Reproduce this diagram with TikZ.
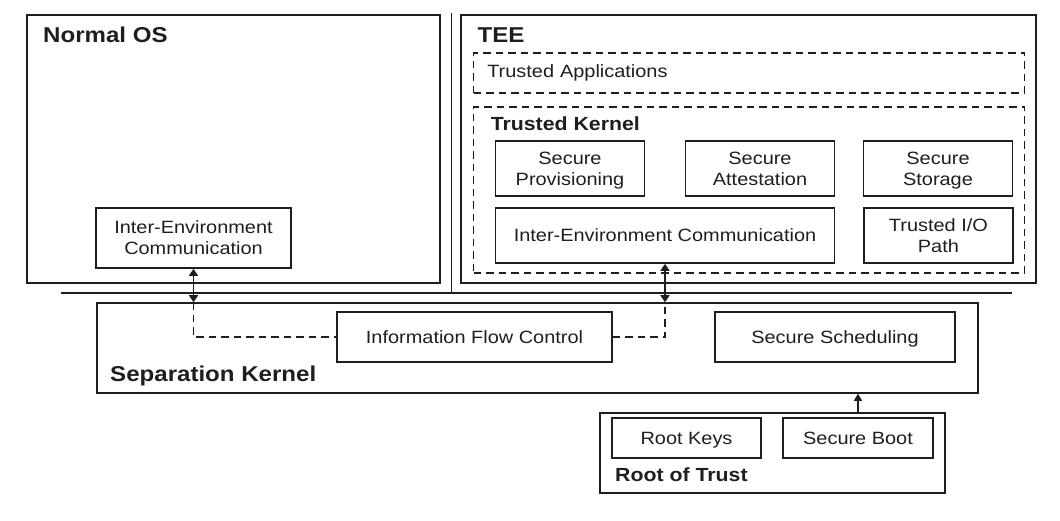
\documentclass[tikz,border=0pt]{standalone}
\usepackage{fontspec}
\setmainfont{Liberation Sans}[FakeStretch=1.12]
\usetikzlibrary{arrows.meta}
\definecolor{ink}{HTML}{1E1E1E}
\tikzset{
  part/.style={draw=ink, line width=1.7pt, inner sep=0pt, align=center, text depth=0pt,
    text=ink, font=\fontsize{17.8}{21}\selectfont},
  zone/.style={draw=ink, line width=1.5pt, inner sep=0pt},
  tzone/.style={draw=ink, line width=1.7pt, dash pattern=on 7.5pt off 5pt, inner sep=0pt},
  title/.style={anchor=base west, inner sep=0pt, text=ink,
    font=\bfseries\fontsize{21.5}{24}\selectfont},
  subtitle/.style={anchor=base west, inner sep=0pt, text=ink,
    font=\bfseries\fontsize{19}{22}\selectfont},
  flow/.style={draw=ink, line width=1.5pt, dash pattern=on 7.5pt off 5pt},
  link/.style={draw=ink, line width=1.5pt, {Triangle[length=7pt,width=9pt]}-{Triangle[length=7pt,width=9pt]}},
  boot/.style={draw=ink, line width=1.3pt, -{Triangle[length=7pt,width=8pt]}},
}
\begin{document}
\begin{tikzpicture}[x=1pt,y=-1pt]
        \useasboundingbox (0,0) rectangle (1060,521);

        % separators
        \coordinate (wtop) at (451.5,13);
        \coordinate (wbot) at (451.5,293);
        \coordinate (hleft) at (61,293);
        \coordinate (hright) at (1012,293);
        \draw[ink, line width=1.7pt] (wtop) -- (wbot);
        \draw[ink, line width=1.7pt] (hleft) -- (hright);

        % normal world
        \node[zone, minimum width=413pt, minimum height=268pt] (normalos) at (233.5,149) {};
        \node[title] (normaltitle) at (43,43) {Normal OS};
        \node[part, minimum width=195pt, minimum height=60pt] (nosiec) at (193.5,238) {Inter-Environment\\Communication};

        % secure world
        \node[zone, minimum width=575pt, minimum height=268pt] (tee) at (748.5,149) {};
        \node[title] (teetitle) at (477.5,43) {TEE};
        \node[tzone, minimum width=551pt, minimum height=40pt, inner xsep=13.8pt, text width=523.4pt,
              align=left, text=ink, font=\fontsize{17.8}{21}\selectfont] (apps) at (749,73) {Trusted Applications};
        \node[tzone, minimum width=551pt, minimum height=166pt] (tkernel) at (749,190) {};
        \node[subtitle] (tktitle) at (490.6,130.7) {Trusted Kernel};
        \node[part, minimum width=149pt, minimum height=55pt] (provisioning) at (570,168.5) {Secure\\Provisioning};
        \node[part, minimum width=149pt, minimum height=55pt] (attestation) at (760,168.5) {Secure\\Attestation};
        \node[part, minimum width=149pt, minimum height=55pt] (storage) at (938,168.5) {Secure\\Storage};
        \node[part, minimum width=339pt, minimum height=55pt] (teeiec) at (665,235.5) {Inter-Environment Communication};
        \node[part, minimum width=149pt, minimum height=55pt] (trustedio) at (938.4,235.5) {Trusted I/O\\Path};

        % separation kernel
        \node[zone, minimum width=881pt, minimum height=90pt] (sepkernel) at (537.5,348) {};
        \node[title] (septitle) at (110,381) {Separation Kernel};
        \node[part, minimum width=275pt, minimum height=50pt] (ifc) at (474.5,337) {Information Flow Control};
        \node[part, minimum width=240pt, minimum height=50pt] (scheduling) at (835,337) {Secure Scheduling};

        % root of trust
        \node[zone, minimum width=345pt, minimum height=80pt] (rot) at (772.5,453) {};
        \node[part, minimum width=149pt, minimum height=40pt] (rootkeys) at (686.5,438) {Root Keys};
        \node[part, minimum width=150pt, minimum height=40pt] (secureboot) at (858,438) {Secure Boot};
        \node[subtitle] (rottitle) at (615,481) {Root of Trust};

        \coordinate (nosgate) at (nosiec.south |- sepkernel.north);
        \coordinate (teegate) at (teeiec.south |- sepkernel.north);

        \draw[link] (nosiec.south) -- (nosgate);
        \draw[link] (teeiec.south) -- (teegate);
        \draw[flow] (nosgate) |- (ifc.west);
        \draw[flow] (ifc.east) -| (teegate);
        \draw[boot] (secureboot.north |- rot.north) -- (secureboot.north |- sepkernel.south);
    \end{tikzpicture}
\end{document}
